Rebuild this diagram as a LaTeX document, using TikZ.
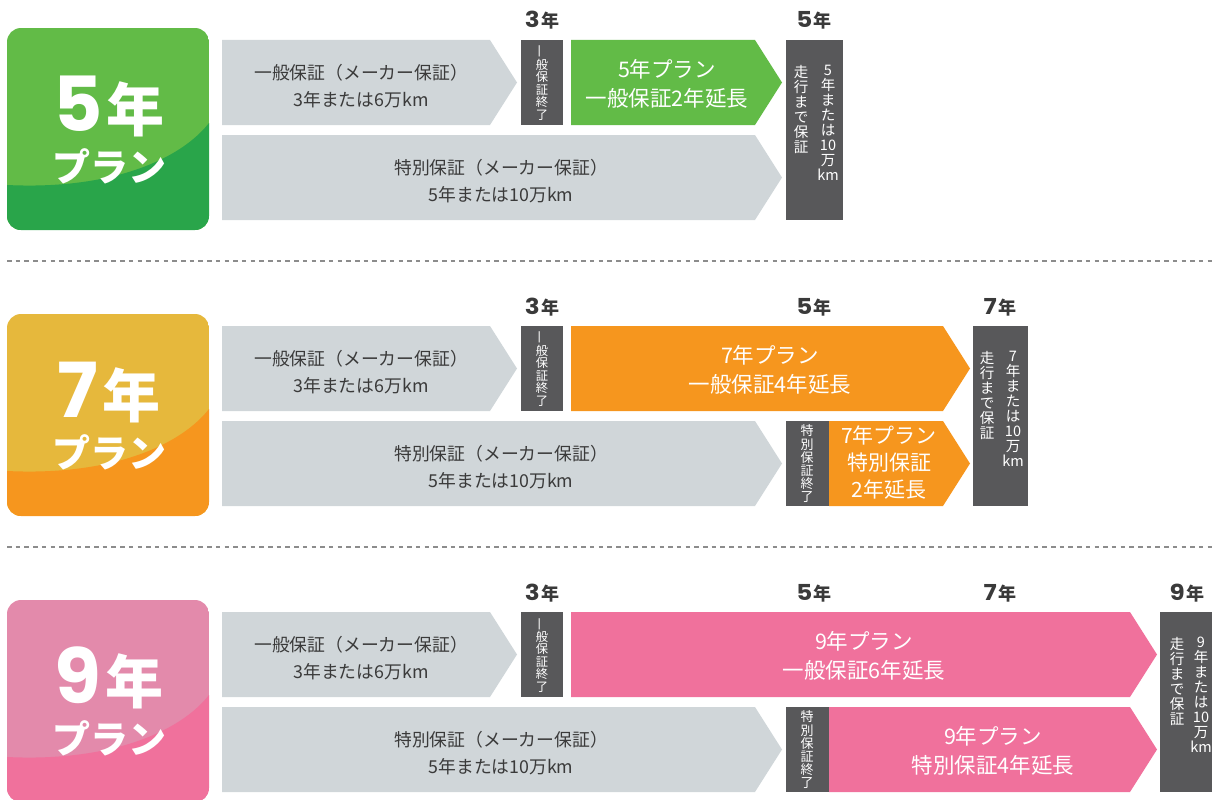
\documentclass[tikz,border=0pt]{standalone}
\usepackage{fontspec}
\usepackage{graphicx}
\setmainfont{Noto Sans CJK JP}
\newfontfamily\pop{Poppins}
\definecolor{greyar}{HTML}{D0D6D9}
\definecolor{darkbox}{HTML}{58585A}
\definecolor{txt}{HTML}{3A3A3A}
\definecolor{gA}{HTML}{62BB47}
\definecolor{gB}{HTML}{29A54A}
\definecolor{oA}{HTML}{E6B83C}
\definecolor{oB}{HTML}{F6961E}
\definecolor{pA}{HTML}{E38AAB}
\definecolor{pB}{HTML}{F0719C}
\definecolor{dashc}{HTML}{8C8C8C}
\newcommand{\yr}[1]{{\pop\bfseries\fontsize{22}{22}\selectfont\scalebox{1.12}[1]{#1}}\hspace{1.5pt}{\bfseries\fontsize{18}{18}\selectfont 年}}
% pentagon arrow: x0, xbody, ytop, colour
\newcommand{\pent}[4]{\fill[#4] (#1,#3) -- (#2,#3) -- ({#2+27},{#3+42.5}) -- (#2,{#3+85}) -- (#1,{#3+85}) -- cycle;}
% plan square: ytop, light, dark, digit, name
\newcommand{\plansq}[5]{%
\begin{scope}
\clip[rounded corners=14pt] (7,#1) rectangle (209,{#1+202});
\fill[#2] (7,#1) rectangle (209,{#1+202});
\fill[#3] (7,{#1+157}) .. controls (110,{#1+162}) and (180,{#1+132}) .. (209,{#1+95}) -- (209,{#1+202}) -- (7,{#1+202}) -- cycle;
\end{scope}
\node[bignum] (#5a) at (109,{#1+103}) {{\pop\bfseries\fontsize{76}{76}\selectfont #4}\hspace{4pt}{\bfseries\fontsize{58}{58}\selectfont 年}};
\node[plantxt] (#5b) at (109,{#1+141}) {プラン};
}
\tikzset{
  every node/.style={inner sep=0pt, outer sep=0pt},
  bignum/.style={anchor=base, text=white, text depth=0pt},
  plantxt/.style={text=white, text height=27pt, text depth=2pt, font=\bfseries\fontsize{38}{38}\selectfont},
  gtext/.style={align=center, text=txt, font=\fontsize{17.8}{27}\selectfont},
  ptext/.style={align=center, text=white, font=\fontsize{21.5}{29}\selectfont},
  ptextb/.style={align=center, text=white, font=\fontsize{21}{27}\selectfont},
  vsmall/.style={align=center, text=white, font=\fontsize{12.3}{12.5}\selectfont},
  vmid/.style={align=center, text=white, font=\fontsize{13}{13.2}\selectfont},
  vtall/.style={align=center, text=white, anchor=north, font=\fontsize{14.5}{15}\selectfont},
  yearlbl/.style={anchor=base, text=txt},
  dashline/.style={draw=dashc, line width=2.2pt, dash pattern=on 4.5pt off 4.2pt}
}
\begin{document}
\begin{tikzpicture}[x=1pt,y=-1pt]
\useasboundingbox (0,0) rectangle (1215,800);

% ---------- row 1 : 5 years ----------
\plansq{28}{gA}{gB}{5}{sqA}
\pent{222}{490}{40}{greyar}
\pent{222}{755}{135}{greyar}
\fill[darkbox] (521,40) rectangle (563,125);
\pent{571}{755}{40}{gA}
\fill[darkbox] (786,40) rectangle (843,220);
\node[gtext] (r1ga) at (361,86) {一般保証（メーカー保証）\\3年または6万km};
\node[gtext] (r1gb) at (501,181) {特別保証（メーカー保証）\\5年または10万km};
\node[ptext] (r1pa) at (667,84) {5年プラン\\一般保証2年延長};
\node[vsmall] (r1e) at (542,83) {\rotatebox[origin=c]{90}{一}\\般\\保\\証\\終\\了};
\node[vtall] (r1ta) at (828,65) {5\\年\\ま\\た\\は\\10\\万\\km};
\node[vtall] (r1tb) at (801,65) {走\\行\\ま\\で\\保\\証};
\node[yearlbl] (r1y3) at (542,28) {\yr{3}};
\node[yearlbl] (r1y5) at (814,28) {\yr{5}};

\coordinate (d1a) at (7,261);
\coordinate (d1b) at (1215,261);
\draw[dashline] (d1a) -- (d1b);

% ---------- row 2 : 7 years ----------
\plansq{314}{oA}{oB}{7}{sqB}
\pent{222}{490}{326}{greyar}
\pent{222}{755}{421}{greyar}
\fill[darkbox] (521,326) rectangle (563,411);
\pent{571}{943}{326}{oB}
\fill[darkbox] (786,421) rectangle (829,506);
\pent{829}{943}{421}{oB}
\fill[darkbox] (973,326) rectangle (1028,506);
\node[gtext] (r2ga) at (361,372) {一般保証（メーカー保証）\\3年または6万km};
\node[gtext] (r2gb) at (501,467) {特別保証（メーカー保証）\\5年または10万km};
\node[ptext] (r2pa) at (770,370) {7年プラン\\一般保証4年延長};
\node[ptextb] (r2pb) at (889,463) {7年プラン\\特別保証\\2年延長};
\node[vsmall] (r2e) at (542,369) {\rotatebox[origin=c]{90}{一}\\般\\保\\証\\終\\了};
\node[vmid] (r2f) at (807,464) {特\\別\\保\\証\\終\\了};
\node[vtall] (r2ta) at (1013,351) {7\\年\\ま\\た\\は\\10\\万\\km};
\node[vtall] (r2tb) at (987,351) {走\\行\\ま\\で\\保\\証};
\node[yearlbl] (r2y3) at (542,314) {\yr{3}};
\node[yearlbl] (r2y5) at (814,314) {\yr{5}};
\node[yearlbl] (r2y7) at (1000,314) {\yr{7}};

\coordinate (d2a) at (7,547);
\coordinate (d2b) at (1215,547);
\draw[dashline] (d2a) -- (d2b);

% ---------- row 3 : 9 years ----------
\plansq{600}{pA}{pB}{9}{sqC}
\pent{222}{490}{612}{greyar}
\pent{222}{755}{707}{greyar}
\fill[darkbox] (521,612) rectangle (563,697);
\pent{571}{1130}{612}{pB}
\fill[darkbox] (786,707) rectangle (829,792);
\pent{829}{1130}{707}{pB}
\fill[darkbox] (1160,612) rectangle (1212,792);
\node[gtext] (r3ga) at (361,658) {一般保証（メーカー保証）\\3年または6万km};
\node[gtext] (r3gb) at (501,753) {特別保証（メーカー保証）\\5年または10万km};
\node[ptext] (r3pa) at (864,656) {9年プラン\\一般保証6年延長};
\node[ptext] (r3pb) at (993,751) {9年プラン\\特別保証4年延長};
\node[vsmall] (r3e) at (542,655) {\rotatebox[origin=c]{90}{一}\\般\\保\\証\\終\\了};
\node[vmid] (r3f) at (807,750) {特\\別\\保\\証\\終\\了};
\node[vtall] (r3ta) at (1201,637) {9\\年\\ま\\た\\は\\10\\万\\km};
\node[vtall] (r3tb) at (1177,637) {走\\行\\ま\\で\\保\\証};
\node[yearlbl] (r3y3) at (542,600) {\yr{3}};
\node[yearlbl] (r3y5) at (814,600) {\yr{5}};
\node[yearlbl] (r3y7) at (1000,600) {\yr{7}};
\node[yearlbl] (r3y9) at (1187,600) {\yr{9}};
\end{tikzpicture}
\end{document}
